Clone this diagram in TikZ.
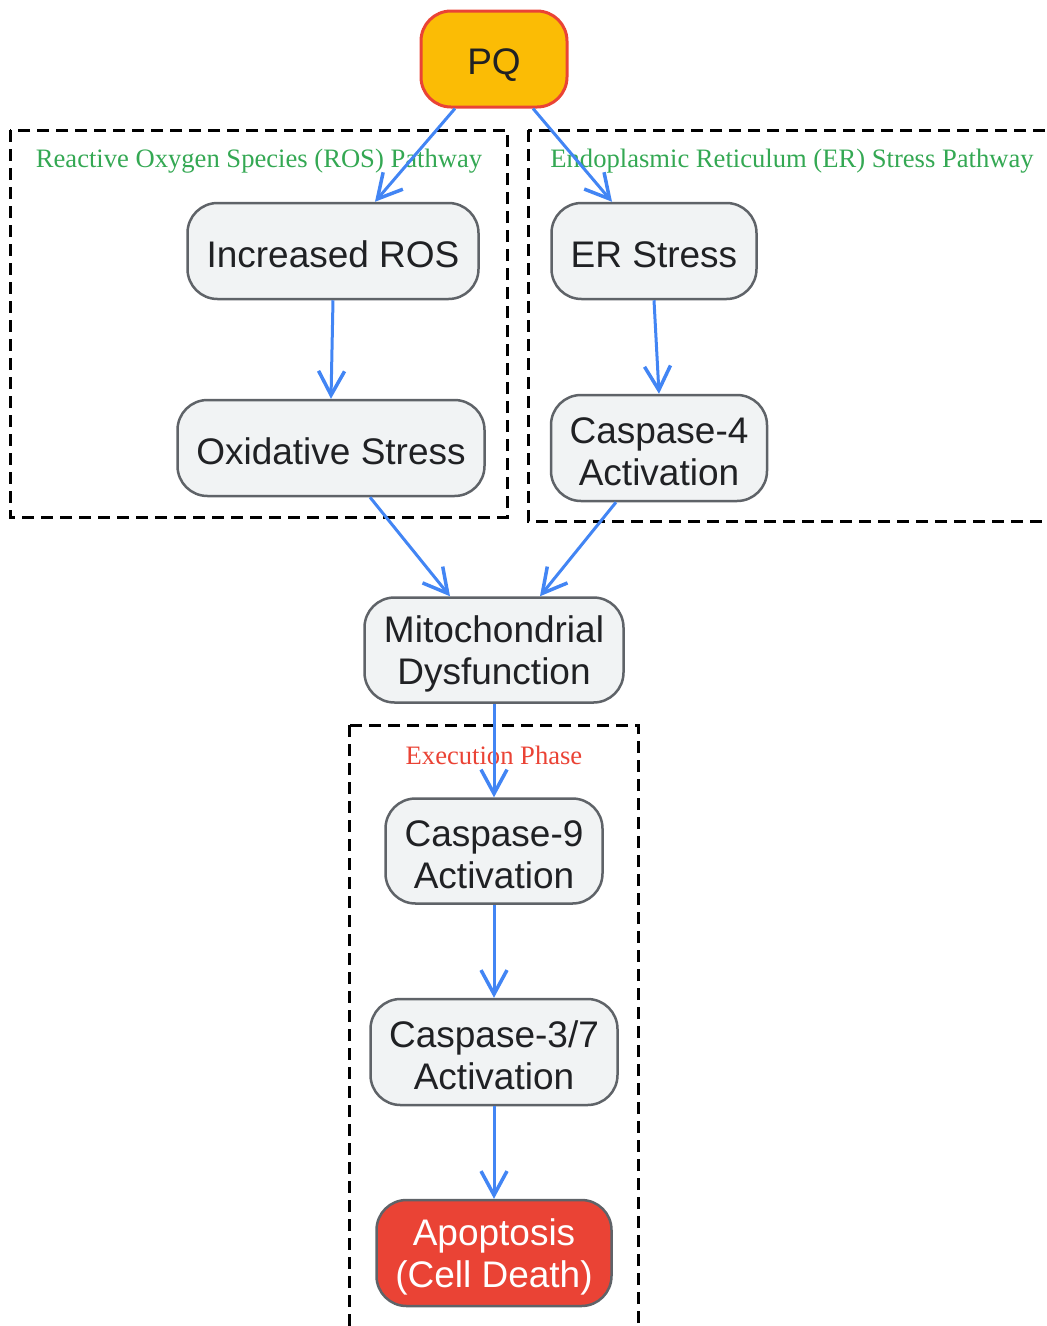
\documentclass[tikz,border=0pt]{standalone}
\usepackage{fontspec}
\setmainfont{Liberation Sans}
\newfontfamily\titlefont{Liberation Serif}
\usepackage{xcolor}
\usetikzlibrary{
	positioning,    % relative placement
	arrows.meta,    % arrow tips
	calc            % shifted anchors
}
\definecolor{pqyellow}{HTML}{FBBC05}
\definecolor{gred}{HTML}{EA4335}
\definecolor{ggreen}{HTML}{34A853}
\definecolor{gblue}{HTML}{4285F4}
\definecolor{boxgray}{HTML}{F1F3F4}
\definecolor{bordergray}{HTML}{5F6368}
\definecolor{textdark}{HTML}{202124}

% invisible strut: pushes the first line down a little
\newcommand{\ns}{\rule{0pt}{34pt}}

\tikzset{
	stepbox/.style={draw=bordergray, line width=2.5pt, fill=boxgray, rounded corners=30pt,
		text=textdark, font=\fontsize{37}{42}\selectfont, align=center, inner sep=0pt},
	pqbox/.style={stepbox, draw=gred, line width=3pt, fill=pqyellow},
	deathbox/.style={stepbox, fill=gred, text=white},
	cluster/.style={draw=black, line width=3pt, dash pattern=on 12pt off 7pt},
	clustertitle/.style={font=\titlefont\fontsize{26.6}{30}\selectfont, inner sep=0pt},
	flow/.style={draw=gblue, line width=3pt,
		-{Straight Barb[length=24pt,width=26pt,line width=3.5pt]}}
}

\begin{document}
\begin{tikzpicture}[x=1pt, y=-1pt]
	\useasboundingbox (0,0) rectangle (1047,1326);
	
	% --- Gruppi ---
	\draw[cluster] (10,130) rectangle (507,517);
	\draw[cluster] (528,130) rectangle (1070,521);
	\draw[cluster] (349,725) rectangle (638,1345);
	\node[clustertitle, text=ggreen] (rostitle) at (259,161) {Reactive Oxygen Species (ROS) Pathway};
	\node[clustertitle, text=ggreen] (ertitle) at (792,161) {Endoplasmic Reticulum (ER) Stress Pathway};
	\node[clustertitle, text=gred] (exectitle) at (494,755) {Execution Phase};
	
	% --- Nodi ---
	\node[pqbox, minimum width=146pt, minimum height=96pt] (pq) at (494,59) {\rule{0pt}{38pt}PQ};
	\node[stepbox, minimum width=291pt, minimum height=96pt] (ros) at (333,251) {\ns Increased ROS};
	\node[stepbox, minimum width=307pt, minimum height=96pt] (oxi) at (331,448) {\ns Oxidative Stress};
	\node[stepbox, minimum width=205pt, minimum height=96pt] (er) at (654,251) {\ns ER Stress};
	\node[stepbox, minimum width=216pt, minimum height=106pt] (casp4) at (659,448) {\ns Caspase-4\\Activation};
	\node[stepbox, minimum width=259pt, minimum height=105pt] (mito) at (494,650) {\ns Mitochondrial\\Dysfunction};
	\node[stepbox, minimum width=217pt, minimum height=105pt] (casp9) at (494,851) {\ns Caspase-9\\Activation};
	\node[stepbox, minimum width=247pt, minimum height=106pt] (casp37) at (494,1052) {\ns Caspase-3/7\\Activation};
	\node[deathbox, minimum width=235pt, minimum height=106pt] (apop) at (494,1253) {\ns Apoptosis\\(Cell Death)};
	
	% --- Frecce ---
	\draw[flow] ($(pq.south)+(-39,0)$) -- ($(ros.north)+(42,0)$);
	\draw[flow] ($(pq.south)+(39,0)$) -- ($(er.north)+(-42,0)$);
	\draw[flow] (ros.south) -- (oxi.north);
	\draw[flow] (er.south) -- (casp4.north);
	\draw[flow] ($(oxi.south)+(39,0)$) -- ($(mito.north)+(-44,0)$);
	\draw[flow] ($(casp4.south)+(-43,0)$) -- ($(mito.north)+(46,0)$);
	\draw[flow] (mito.south) -- (casp9.north);
	\draw[flow] (casp9.south) -- (casp37.north);
	\draw[flow] (casp37.south) -- (apop.north);
\end{tikzpicture}
\end{document}
